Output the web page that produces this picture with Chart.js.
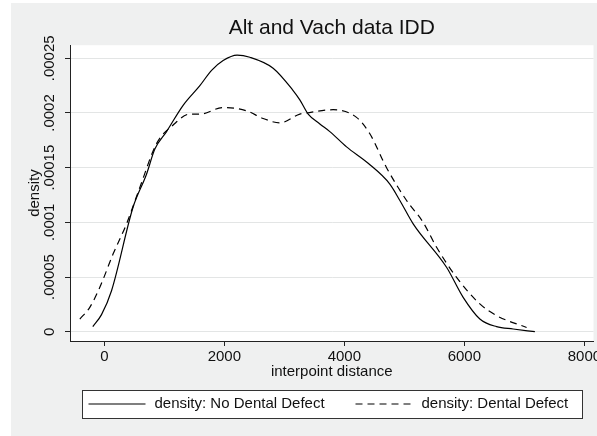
<!DOCTYPE html>
<html>
<head>
<meta charset="utf-8">
<script src="https://cdn.jsdelivr.net/npm/chart.js@4.4.1/dist/chart.umd.min.js"></script>
<style>
  html, body { margin: 0; padding: 0; background: #ffffff; }
  #chart { position: absolute; left: 11px; top: 3px; background: #eff0f0; }
</style>
</head>
<body>
<canvas id="chart" width="586" height="433"></canvas>
<script>
// values
const noDefectX = [-192, -47, 120, 480, 703, 842, 1037, 1313, 1592, 1787, 1980, 2213, 2425, 2813, 3140, 3258, 3397, 3592, 3758, 4037, 4397, 4758, 4925, 5147, 5703, 5980, 6258, 6537, 6813, 7175];
const noDefectY = [0.0000046, 0.0000156, 0.0000375, 0.000114, 0.000144, 0.000167, 0.000183, 0.000207, 0.000225, 0.000239, 0.000248, 0.000253, 0.000251, 0.000241, 0.000221, 0.000212, 0.000199, 0.000190, 0.000183, 0.000169, 0.000154, 0.000135, 0.000120, 0.0000986, 0.0000589, 0.0000314, 0.0000116, 0.0000046, 0.0000025, 0.0];

const defectX = [-408, -242, -75, 147, 370, 592, 870, 1147, 1425, 1592, 1980, 2370, 2647, 2925, 3258, 3370, 3813, 4203, 4425, 4703, 5037, 5313, 5537, 5870, 6258, 6537, 7037];
const defectY = [0.0000116, 0.0000223, 0.0000406, 0.0000712, 0.0000986, 0.000132, 0.000172, 0.000189, 0.000199, 0.000199, 0.000205, 0.000202, 0.000195, 0.000191, 0.000199, 0.000200, 0.000203, 0.000196, 0.000181, 0.000150, 0.000120, 0.0001000, 0.0000772, 0.0000497, 0.0000254, 0.0000147, 0.0000039];

const xTickValues = [0, 2000, 4000, 6000, 8000];
const xTickLabels = ['0', '2000', '4000', '6000', '8000'];
const yTickValues = [0, 0.00005, 0.0001, 0.00015, 0.0002, 0.00025];
const yTickLabels = ['0', '.00005', '.0001', '.00015', '.0002', '.00025'];

const seriesLabels = ['density: No Dental Defect', 'density: Dental Defect'];

const FONT = "'Liberation Sans', Arial, Helvetica, sans-serif";
const INK = '#111111';

Chart.defaults.font.family = FONT;
Chart.defaults.color = INK;

const toPoints = (xs, ys) => xs.map((x, i) => ({ x: x, y: ys[i] }));

// white plot region
const plotBackground = {
    id: 'plotBackground',
    beforeDraw(chart) {
        const { ctx, chartArea: a } = chart;
        ctx.save();
        ctx.fillStyle = '#ffffff';
        ctx.fillRect(a.left, a.top, a.right - a.left, a.bottom - a.top);
        ctx.restore();
    }
};

// Stata style boxed legend under the axis title
const boxedLegend = {
    id: 'boxedLegend',
    afterDraw(chart) {
        const { ctx, chartArea: a } = chart;
        const cx = (a.left + a.right) / 2;
        const left = Math.round(cx - 250) + 0.5;
        const top = 387.5, bottom = 415.5;
        const mid = 401;
        ctx.save();
        ctx.fillStyle = '#ffffff';
        ctx.fillRect(left, top, 500, bottom - top);
        ctx.strokeStyle = '#333333';
        ctx.lineWidth = 1;
        ctx.strokeRect(left, top, 500, bottom - top);

        const items = [
            { x0: 6, x1: 63, tx: 72 },
            { x0: 273, x1: 330, tx: 339 }
        ];
        items.forEach((it, i) => {
            const ds = chart.data.datasets[i];
            ctx.beginPath();
            ctx.setLineDash(ds.borderDash || []);
            ctx.lineWidth = ds.borderWidth;
            ctx.strokeStyle = ds.borderColor;
            ctx.moveTo(left + it.x0, mid);
            ctx.lineTo(left + it.x1, mid);
            ctx.stroke();
            ctx.setLineDash([]);
            ctx.fillStyle = INK;
            ctx.font = '15px ' + FONT;
            ctx.textAlign = 'left';
            ctx.textBaseline = 'middle';
            ctx.fillText(ds.label, left + it.tx, mid);
        });
        ctx.restore();
    }
};

new Chart(document.getElementById('chart'), {
    type: 'line',
    data: {
        datasets: [
            {
                label: seriesLabels[0],
                data: toPoints(noDefectX, noDefectY),
                borderColor: '#000000',
                borderWidth: 1.2,
                pointRadius: 0,
                fill: false,
                cubicInterpolationMode: 'monotone'
            },
            {
                label: seriesLabels[1],
                data: toPoints(defectX, defectY),
                borderColor: '#000000',
                borderWidth: 1.2,
                borderDash: [7, 5],
                pointRadius: 0,
                fill: false,
                cubicInterpolationMode: 'monotone'
            }
        ]
    },
    options: {
        responsive: false,
        animation: false,
        layout: { padding: { left: 0, right: 3.5, top: 0, bottom: 53 } },
        plugins: {
            legend: { display: false },
            tooltip: { enabled: false },
            title: {
                display: true,
                text: 'Alt and Vach data IDD',
                fullSize: false,
                color: INK,
                font: { size: 21, weight: 'normal' },
                padding: { top: 13, bottom: 4 }
            }
        },
        scales: {
            x: {
                type: 'linear',
                min: -572,
                max: 8152,
                afterBuildTicks: s => { s.ticks = xTickValues.map(v => ({ value: v })); },
                afterFit: s => { s.height = 42; s.paddingLeft = 0; s.paddingRight = 0; },
                ticks: {
                    font: { size: 15 },
                    color: INK,
                    padding: 2,
                    maxRotation: 0,
                    autoSkip: false,
                    callback: v => xTickLabels[xTickValues.indexOf(v)]
                },
                grid: {
                    drawOnChartArea: false,
                    drawTicks: true,
                    tickLength: 5,
                    tickColor: '#222222'
                },
                border: { display: true, color: '#222222', width: 1 },
                title: {
                    display: true,
                    text: 'interpoint distance',
                    color: INK,
                    font: { size: 15 },
                    padding: { top: 0, bottom: 2.5 }
                }
            },
            y: {
                type: 'linear',
                min: -0.0000085,
                max: 0.000262,
                afterBuildTicks: s => { s.ticks = yTickValues.map(v => ({ value: v })); },
                afterFit: s => { s.width = 59; s.paddingTop = 0; s.paddingBottom = 0; },
                ticks: {
                    font: { size: 15 },
                    color: INK,
                    padding: -8,
                    minRotation: 90,
                    maxRotation: 90,
                    crossAlign: 'center',
                    autoSkip: false,
                    callback: v => yTickLabels[yTickValues.indexOf(v)]
                },
                grid: {
                    color: '#e3e5e5',
                    lineWidth: 1,
                    drawTicks: true,
                    tickLength: 5,
                    tickColor: '#222222'
                },
                border: { display: true, color: '#222222', width: 1 },
                title: {
                    display: true,
                    text: 'density',
                    color: INK,
                    font: { size: 15 },
                    padding: { top: 15, bottom: 0 }
                }
            }
        }
    },
    plugins: [plotBackground, boxedLegend]
});
</script>
</body>
</html>
